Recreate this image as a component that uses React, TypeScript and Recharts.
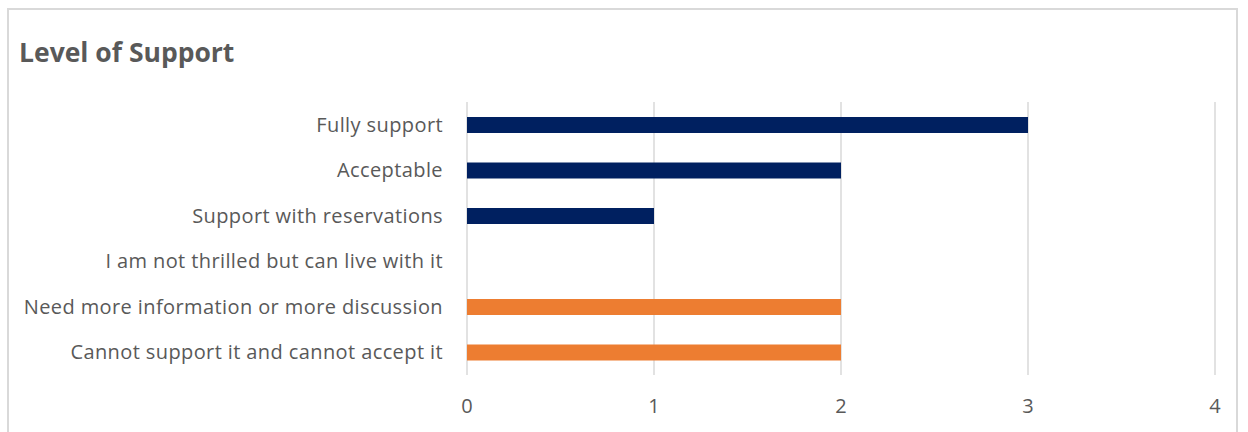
import React from "react";
import { BarChart, Bar, XAxis, YAxis, CartesianGrid, Cell } from "recharts";

const categories = [
  "Fully support",
  "Acceptable",
  "Support with reservations",
  "I am not thrilled but can live with it",
  "Need more information or more discussion",
  "Cannot support it and cannot accept it",
];
const counts = [3, 2, 1, 0, 2, 2];
const barColors = ["#002060", "#002060", "#002060", "#002060", "#ED7D31", "#ED7D31"];
const xTicks = [0, 1, 2, 3, 4];
const title = "Level of Support";

const data = categories.map((name, i) => ({ name, value: counts[i] }));

const FONT = "'Open Sans', sans-serif";
const TEXT = "#595959";

export default function App() {
  return (
    <div style={{ position: "absolute", left: 0, top: 0, width: 1248, height: 432, background: "#fff", overflow: "hidden", fontFamily: FONT }}>
      <div style={{ position: "absolute", left: 7, top: 8, width: 1231, height: 440, border: "2px solid #d9d9d9", boxSizing: "border-box" }} />
      <div style={{ position: "absolute", left: 19, top: 33, fontSize: 26.5, fontWeight: 700, color: TEXT, lineHeight: "38px" }}>{title}</div>
      <div style={{ position: "absolute", left: 0, top: 0 }}>
        <BarChart
          width={1248}
          height={432}
          data={data}
          layout="vertical"
          margin={{ top: 102, right: 33, bottom: 0, left: 0 }}
          barCategoryGap={0}
        >
          <CartesianGrid horizontal={false} vertical={true} stroke="#d9d9d9" strokeWidth={1.5} />
          <XAxis
            type="number"
            domain={[0, 4]}
            ticks={xTicks}
            axisLine={false}
            tickLine={false}
            height={57}
            tickMargin={18}
            tick={{ fill: TEXT, fontSize: 20, fontFamily: FONT }}
            interval={0}
          />
          <YAxis
            type="category"
            dataKey="name"
            width={467}
            axisLine={false}
            tickLine={false}
            tickMargin={18}
            tick={{ fill: TEXT, fontSize: 20, fontFamily: FONT, letterSpacing: 0.4 }}
            interval={0}
          />
          <Bar dataKey="value" barSize={16} isAnimationActive={false}>
            {data.map((d, i) => (
              <Cell key={d.name} fill={barColors[i]} />
            ))}
          </Bar>
        </BarChart>
      </div>
    </div>
  );
}
